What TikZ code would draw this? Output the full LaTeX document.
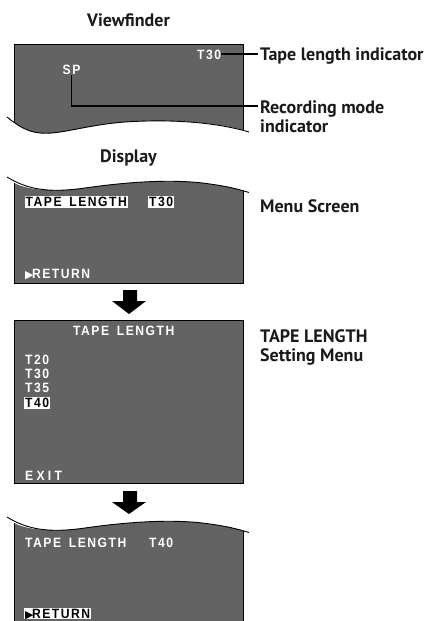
\documentclass[tikz,border=0pt]{standalone}
\usepackage{fontspec}
\newfontfamily\osdfont[LetterSpace=11,FakeStretch=0.9,WordSpace=1.6]{Liberation Sans}
\newfontfamily\osdwide[LetterSpace=24,FakeStretch=0.9]{Liberation Sans}
\newfontfamily\trifont{DejaVu Sans}
\newfontfamily\labfont{PT Sans}
\definecolor{scr}{HTML}{636363}
\definecolor{ink}{HTML}{1A1A1A}
\newcommand{\tri}{{\fontsize{11}{11}\trifont\char"25B6}}
\tikzset{
  screen/.style={fill=scr,draw=none},
  edgeline/.style={draw=black,line width=0.9pt},
  osd/.style={inner sep=0pt,text=white,font=\fontsize{13.5}{13.5}\osdfont\bfseries,anchor=base west},
  osdinv/.style={inner xsep=1pt,inner ysep=0pt,fill=white,text=black,font=\fontsize{13.5}{13.5}\osdfont\bfseries,anchor=base west,text height=10.5pt,text depth=1.2pt},
  lab/.style={inner sep=0pt,text=ink,font=\fontsize{18}{18}\labfont\bfseries,anchor=base west},
  leader/.style={draw=black,line width=1.3pt},
  bigarrow/.style={fill=black,draw=none}
}
\newcommand{\waveT}[1]{(7,#1) .. controls (28,{#1+13}) and (50,{#1+16}) .. (85,{#1+11}) .. controls (120,{#1+6}) and (170,{#1+1}) .. (210,{#1+7}) .. controls (225,{#1+9}) and (238,{#1+12}) .. (249,{#1+15.5})}
\begin{document}
\begin{tikzpicture}[x=1pt,y=-1pt]
\useasboundingbox (0,0) rectangle (431,621);
% viewfinder screen
\fill[screen] (14,44) -- (243,44) -- (243,130) .. controls (215,122) and (170,119) .. (125,122) .. controls (85,125) and (60,135) .. (40,133) .. controls (28,132) and (18,126) .. (14,122) -- cycle;
\draw[edgeline] (243,130) -- (243,44) -- (14,44) -- (14,122);
\draw[edgeline] (7,117) .. controls (18,126) and (28,132) .. (40,133) .. controls (60,135) and (85,125) .. (125,122) .. controls (170,119) and (215,122) .. (249,132);
% display screen
\fill[screen] (14,183) .. controls (25,189) and (50,193) .. (85,188) .. controls (120,183) and (170,178) .. (210,184) .. controls (225,186) and (235,188) .. (243,191) -- (243,283) -- (14,283) -- cycle;
\draw[edgeline] (14,183) -- (14,283) -- (243,283) -- (243,191);
\draw[edgeline] \waveT{177};
% menu screen
\fill[screen] (14,320.5) rectangle (243,483);
\draw[edgeline] (14,320.5) rectangle (243,483);
% last screen
\fill[screen] (14,523) .. controls (25,529) and (50,533) .. (85,528) .. controls (120,523) and (170,518) .. (210,524) .. controls (225,526) and (235,528) .. (243,531) -- (243,621) -- (14,621) -- cycle;
\draw[edgeline] (14,523) -- (14,621) (243,531) -- (243,621);
\draw[edgeline] \waveT{517};
% arrows
\fill[bigarrow] (123,290) -- (137,290) -- (137,301) -- (146,301) -- (129,314) -- (112,301) -- (123,301) -- cycle;
\fill[bigarrow] (123,491) -- (137,491) -- (137,502) -- (146,502) -- (129,514) -- (112,502) -- (123,502) -- cycle;
% headings
\node[lab,anchor=base] (hv) at (128.5,26) {Viewfinder};
\node[lab,anchor=base] (hd) at (128.5,162) {Display};
% viewfinder texts
\node[osd] (t30) at (197,59) {T30};
\node[osd] (sp) at (62.5,74) {SP};
\node[lab] (ltl) at (260,60.5) {Tape length indicator};
\node[lab] (lrm) at (260,113) {Recording mode};
\node[lab] (lrm2) at (260,132.5) {indicator};
\coordinate (rmjoin) at (258,106);
\coordinate (tljoin) at (258,54);
\draw[leader] (t30.east |- tljoin) -- (tljoin);
\draw[leader] (sp.south |- 0,75) |- (rmjoin);
% display texts
\node[osdinv] (d1) at (24.5,206.5) {TAPE LENGTH};
\node[osdinv] (d2) at (148,206.5) {T30};
\node[osd] (d3) at (25,278) {\tri\kern-1.5pt RETURN};
\node[lab] (lms) at (260,212.5) {Menu Screen};
% menu texts
\node[osd] (m0) at (73,335) {TAPE LENGTH};
\node[osd] (m1) at (25,364) {T20};
\node[osd] (m2) at (25,378) {T30};
\node[osd] (m3) at (25,392.5) {T35};
\node[osdinv] (m4) at (24,407.5) {T40};
\node[osd,font=\fontsize{13.5}{13.5}\osdwide\bfseries] (m5) at (25,480) {EXIT};
\node[lab] (lt1) at (260,342.5) {TAPE LENGTH};
\node[lab] (lt2) at (260,361.5) {Setting Menu};
% last texts
\node[osd] (e1) at (25,547) {TAPE LENGTH};
\node[osd] (e2) at (149,547) {T40};
\node[osdinv] (e3) at (24,618) {\tri\kern-1.5pt RETURN};
\end{tikzpicture}
\end{document}
